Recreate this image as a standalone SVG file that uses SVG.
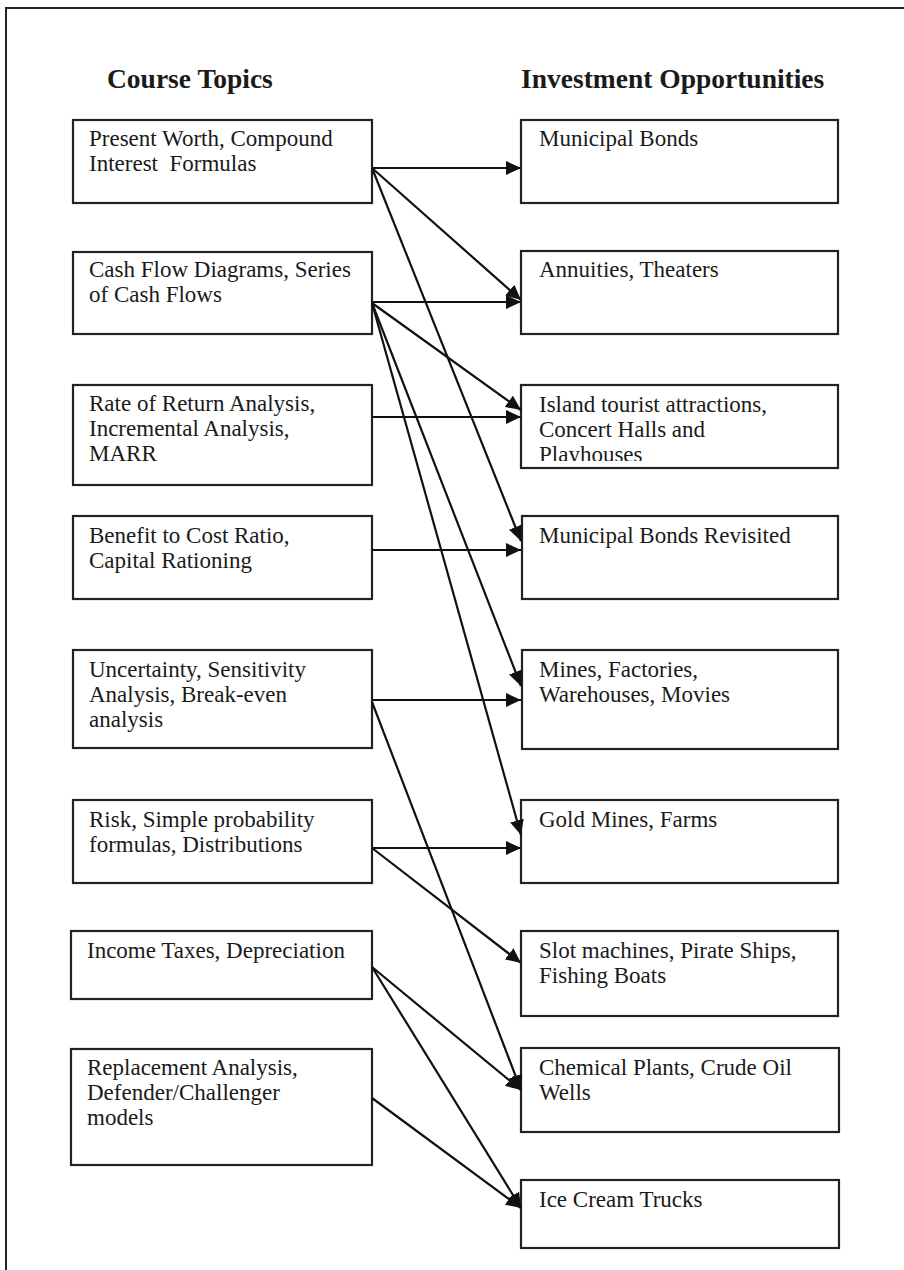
<svg xmlns="http://www.w3.org/2000/svg" width="904" height="1270" viewBox="0 0 904 1270">
<style>
.box{fill:#fff;stroke:#222;stroke-width:2.2}
.t{font-family:"Liberation Serif","Times New Roman",serif;font-size:23px;fill:#1a1a1a}
.h{font-family:"Liberation Serif","Times New Roman",serif;font-size:27.5px;font-weight:bold;fill:#1a1a1a}
.c{stroke:#111;stroke-width:2.2;fill:none;marker-end:url(#ah)}
.frame{stroke:#222;stroke-width:2;fill:none}
</style>
<defs>
<marker id="ah" markerUnits="userSpaceOnUse" markerWidth="16" markerHeight="14" refX="15" refY="7" orient="auto">
<path d="M0,0 L15,7 L0,14 Z" fill="#111"/>
</marker>
<clipPath id="clipR3"><rect x="521" y="385" width="317" height="76"/></clipPath>
</defs>
<rect width="904" height="1270" fill="#fff"/>
<path class="frame" d="M904,8 H6 V1270"/>
<g id="headers">
<text class="h" x="107" y="88">Course Topics</text>
<text class="h" x="521" y="88">Investment Opportunities</text>
</g>
<g id="L1"><rect class="box" x="73" y="120" width="299" height="83"/><text class="t" x="89" y="146">Present Worth, Compound</text><text class="t" x="89" y="171" xml:space="preserve">Interest  Formulas</text></g>
<g id="L2"><rect class="box" x="73" y="252" width="299" height="82"/><text class="t" x="89" y="277">Cash Flow Diagrams, Series</text><text class="t" x="89" y="302">of Cash Flows</text></g>
<g id="L3"><rect class="box" x="73" y="385" width="299" height="100"/><text class="t" x="89" y="411">Rate of Return Analysis,</text><text class="t" x="89" y="436">Incremental Analysis,</text><text class="t" x="89" y="461">MARR</text></g>
<g id="L4"><rect class="box" x="73" y="516" width="299" height="83"/><text class="t" x="89" y="543">Benefit to Cost Ratio,</text><text class="t" x="89" y="568">Capital Rationing</text></g>
<g id="L5"><rect class="box" x="73" y="650" width="299" height="98"/><text class="t" x="89" y="677">Uncertainty, Sensitivity</text><text class="t" x="89" y="702">Analysis, Break-even</text><text class="t" x="89" y="727">analysis</text></g>
<g id="L6"><rect class="box" x="73" y="800" width="299" height="83"/><text class="t" x="89" y="827">Risk, Simple probability</text><text class="t" x="89" y="852">formulas, Distributions</text></g>
<g id="L7"><rect class="box" x="71" y="931" width="301" height="68"/><text class="t" x="87" y="958">Income Taxes, Depreciation</text></g>
<g id="L8"><rect class="box" x="71" y="1049" width="301" height="116"/><text class="t" x="87" y="1075">Replacement Analysis,</text><text class="t" x="87" y="1100">Defender/Challenger</text><text class="t" x="87" y="1125">models</text></g>
<g id="R1"><rect class="box" x="521" y="120" width="317" height="83"/><text class="t" x="539" y="146">Municipal Bonds</text></g>
<g id="R2"><rect class="box" x="521" y="251" width="317" height="83"/><text class="t" x="539" y="277">Annuities, Theaters</text></g>
<g id="R3"><rect class="box" x="521" y="385" width="317" height="83"/><g clip-path="url(#clipR3)"><text class="t" x="539" y="412">Island tourist attractions,</text><text class="t" x="539" y="437">Concert Halls and</text><text class="t" x="539" y="462">Playhouses</text></g></g>
<g id="R4"><rect class="box" x="522" y="516" width="316" height="83"/><text class="t" x="539" y="543">Municipal Bonds Revisited</text></g>
<g id="R5"><rect class="box" x="522" y="650" width="316" height="99"/><text class="t" x="539" y="677">Mines, Factories,</text><text class="t" x="539" y="702">Warehouses, Movies</text></g>
<g id="R6"><rect class="box" x="521" y="800" width="317" height="83"/><text class="t" x="539" y="827">Gold Mines, Farms</text></g>
<g id="R7"><rect class="box" x="521" y="931" width="317" height="85"/><text class="t" x="539" y="958">Slot machines, Pirate Ships,</text><text class="t" x="539" y="983">Fishing Boats</text></g>
<g id="R8"><rect class="box" x="521" y="1048" width="318" height="84"/><text class="t" x="539" y="1075">Chemical Plants, Crude Oil</text><text class="t" x="539" y="1100">Wells</text></g>
<g id="R9"><rect class="box" x="521" y="1180" width="318" height="68"/><text class="t" x="539" y="1207">Ice Cream Trucks</text></g>
<g id="connectors">
<line class="c" x1="372" y1="168" x2="521" y2="168"/>
<line class="c" x1="372" y1="168" x2="521" y2="300"/>
<line class="c" x1="372" y1="168" x2="521" y2="541"/>
<line class="c" x1="372" y1="302" x2="521" y2="302"/>
<line class="c" x1="372" y1="303" x2="521" y2="410"/>
<line class="c" x1="372" y1="303" x2="521" y2="686"/>
<line class="c" x1="372" y1="303" x2="521" y2="835"/>
<line class="c" x1="372" y1="417" x2="521" y2="417"/>
<line class="c" x1="372" y1="550" x2="521" y2="550"/>
<line class="c" x1="372" y1="700" x2="521" y2="700"/>
<line class="c" x1="372" y1="702" x2="521" y2="1090"/>
<line class="c" x1="372" y1="848" x2="521" y2="848"/>
<line class="c" x1="372" y1="848" x2="521" y2="963"/>
<line class="c" x1="372" y1="967" x2="521" y2="1090"/>
<line class="c" x1="372" y1="967" x2="521" y2="1208"/>
<line class="c" x1="372" y1="1098" x2="521" y2="1208"/>
</g>
</svg>
